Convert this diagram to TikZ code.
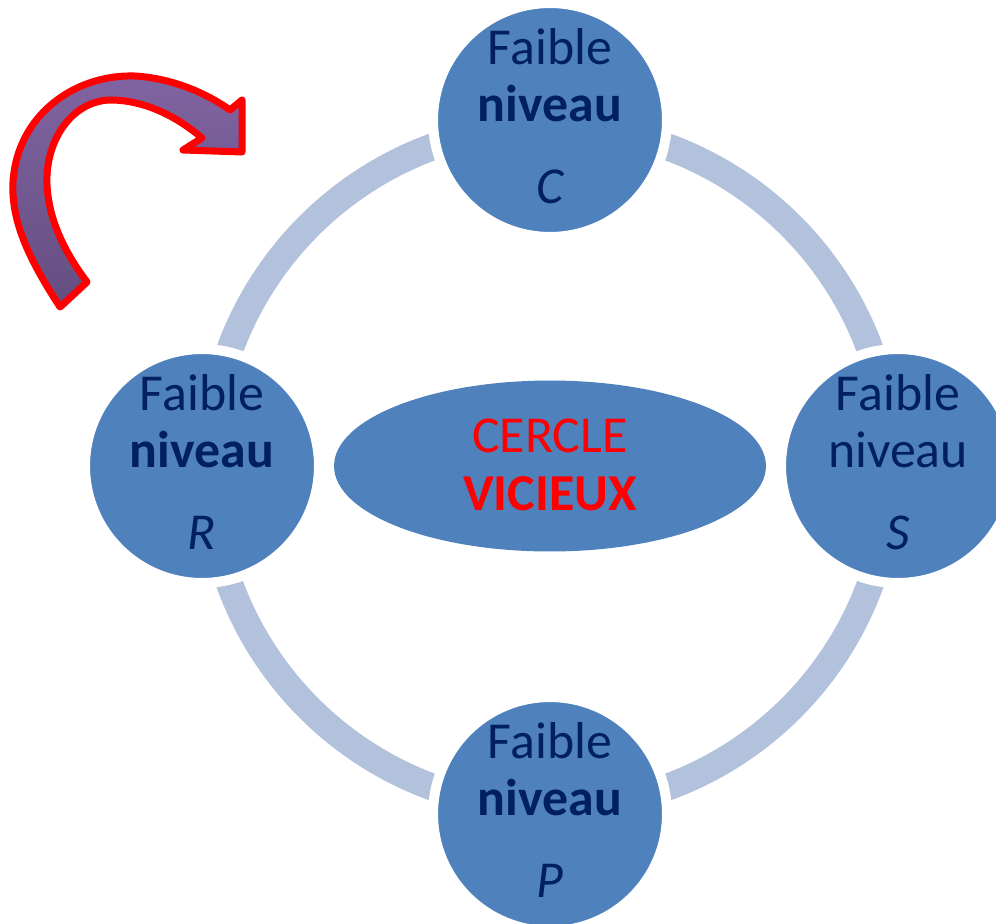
\documentclass[tikz,border=0pt]{standalone}
\usepackage{fontspec}
\setmainfont{Carlito}
\usetikzlibrary{positioning,shapes.geometric,shadows}
\definecolor{cb}{RGB}{79,129,189}
\definecolor{rg}{RGB}{178,194,221}
\definecolor{tx}{RGB}{0,32,96}
\definecolor{ar}{RGB}{255,0,0}
\definecolor{fa}{RGB}{128,100,162}
\definecolor{fb}{RGB}{100,78,128}
\tikzstyle{rond} = [circle, minimum size=4.68cm, fill=cb, draw=white, line width=0.2cm]
\tikzstyle{lbl} = [anchor=base, inner sep=0, text=tx, font=\fontsize{29.5}{34}\selectfont]
\tikzstyle{vlbl} = [anchor=base, inner sep=0, text=ar, font=\fontsize{29.5}{34}\selectfont]

\begin{document}
\begin{tikzpicture}[x=0.02cm, y=-0.02cm]
\useasboundingbox (0,0) rectangle (996,923);
\draw[rg, line width=0.54cm] (550,467) circle[radius=6.82cm];
\foreach [count = \i] \x/\y/\l/\b in {550/120/C/\bfseries, 202/466/R/\bfseries, 898/466/S/\mdseries, 550/814/P/\bfseries}{
\node[rond] (n\l) at (\x,\y) {};
\node[lbl] at (\x,\y-56) {Faible};
\node[lbl] at (\x,\y+1) {\b niveau};
\node[lbl] at (\x,\y+83) {\itshape \l};
}
\node[ellipse, minimum width=8.64cm, minimum height=3.42cm, fill=cb, inner sep=0] (vc) at (550,466) {};
\node[vlbl] at (550,452) {CERCLE};
\node[vlbl] at (550,510) {\bfseries VICIEUX};
%\node[vlbl] at (vc) {};
\path[draw=ar, line width=0.14cm, line join=round, top color=fa, bottom color=fb,
  drop shadow={opacity=0.25, shadow xshift=0.06cm, shadow yshift=-0.06cm}]
  (60,307) .. controls (28,258) and (11,220) .. (13,182)
  .. controls (17,115) and (75,74) .. (135,76)
  .. controls (170,78) and (205,92) .. (230,110)
  -- (242,100) -- (242,152) -- (183,150) -- (202,138)
  .. controls (175,115) and (143,100) .. (110,100)
  .. controls (72,101) and (45,140) .. (47,185)
  .. controls (49,222) and (66,254) .. (87,282) -- cycle;
\end{tikzpicture}
\end{document}
